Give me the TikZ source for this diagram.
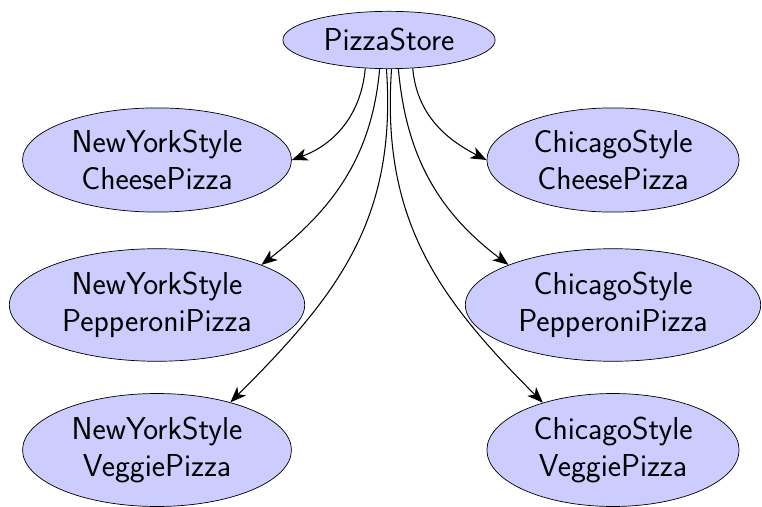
\documentclass[tikz,border=0pt]{standalone}
\usepackage{tikz}
\usetikzlibrary{shapes.geometric, arrows.meta}

\begin{document}
\begin{tikzpicture}[
  pizza/.style={ellipse, draw, fill=blue!20, inner xsep=5.5pt, inner ysep=4pt,
    align=center, font=\sffamily\fontsize{18}{21}\selectfont},
  link/.style={-{Stealth[length=9pt, width=7pt, inset=2.5pt]}, semithick}
]

  % Column and row positions
  \def\nyx{3.14}
  \def\chx{12.26}
  \def\rowa{-3.2}
  \def\rowb{-6.1}
  \def\rowc{-9.0}

  \useasboundingbox (0,0) rectangle (15.24,-10.14);

  % === Factory on top
  \node[pizza, inner ysep=5pt] (store) at (7.78,-0.8) {PizzaStore};

  % === New York pizzas
  \node[pizza] (nycheese) at (\nyx,\rowa) {NewYorkStyle\\CheesePizza};
  \node[pizza] (nypep)    at (\nyx,\rowb) {NewYorkStyle\\PepperoniPizza};
  \node[pizza] (nyveg)    at (\nyx,\rowc) {NewYorkStyle\\VeggiePizza};

  % === Chicago pizzas
  \node[pizza] (chcheese) at (\chx,\rowa) {ChicagoStyle\\CheesePizza};
  \node[pizza] (chpep)    at (\chx,\rowb) {ChicagoStyle\\PepperoniPizza};
  \node[pizza] (chveg)    at (\chx,\rowc) {ChicagoStyle\\VeggiePizza};

  % Creates
  \draw[link] (store.230) to[out=-95, in=20]  (nycheese.east);
  \draw[link] (store.252) to[out=-95, in=38]  (nypep.21);
  \draw[link] (store.265) to[out=-86, in=45, looseness=1.05]  (nyveg.33);
  \draw[link] (store.275) to[out=-94, in=135, looseness=1.05] (chveg.146);
  \draw[link] (store.288) to[out=-85, in=143] (chpep.159);
  \draw[link] (store.310) to[out=-85, in=153] (chcheese.west);

\end{tikzpicture}
\end{document}
